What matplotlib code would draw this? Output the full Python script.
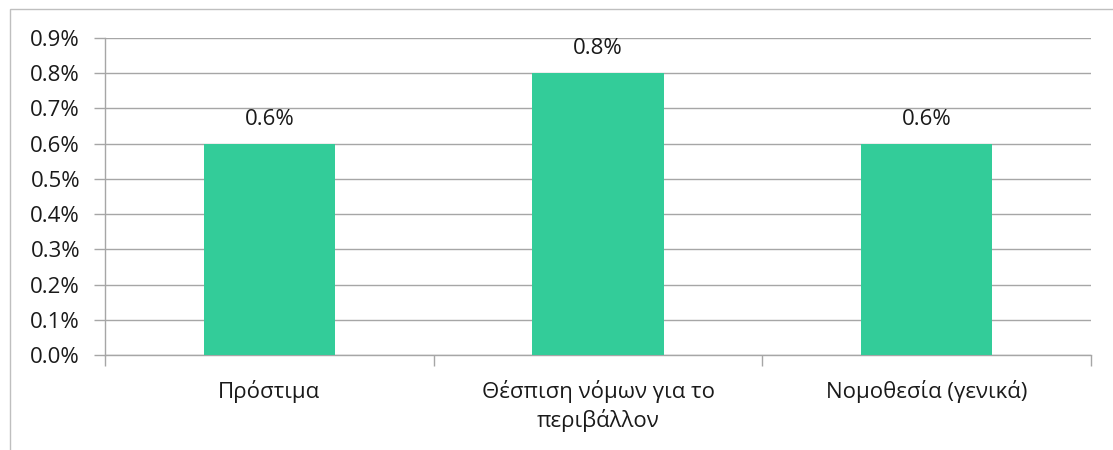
import numpy as np
import matplotlib.pyplot as plt
from matplotlib.patches import Rectangle
from matplotlib.ticker import FuncFormatter, FixedLocator

plt.rcParams['font.family'] = ['Open Sans', 'DejaVu Sans']

categories = ["Πρόστιμα", "Θέσπιση νόμων για το\nπεριβάλλον", "Νομοθεσία (γενικά)"]
values = [0.006, 0.008, 0.006]
y_ticks = [i / 1000 for i in range(10)]

BAR_COLOR = '#33CC99'
GRID_COLOR = '#A6A6A6'
TEXT_COLOR = '#1A1A1A'
FS = 16

W, H = 1113, 450
fig = plt.figure(figsize=(W / 100, H / 100), dpi=100)

# chart area border (runs off the right and bottom edges)
fig.patches.append(Rectangle((10 / W, -0.1), 1.2, 1 - 9 / H + 0.1,
                             transform=fig.transFigure, fill=False,
                             edgecolor='#BFBFBF', linewidth=1.0))

ax = fig.add_axes([105 / W, 1 - 355 / H, (1091 - 105) / W, (355 - 38) / H])

x = np.arange(len(categories))
ax.bar(x, values, width=0.4, color=BAR_COLOR, zorder=3)
for xi, v in zip(x, values):
    ax.annotate("{:.1f}%".format(v * 100), (xi, v), xytext=(0, 10),
                textcoords='offset points', ha='center', va='bottom',
                fontsize=FS, color=TEXT_COLOR)

ax.set_xlim(-0.5, len(categories) - 0.5)
ax.set_ylim(0, 0.009)
ax.set_yticks(y_ticks)
ax.yaxis.set_major_formatter(FuncFormatter(lambda v, p: "{:.1f}%".format(v * 100)))
ax.grid(axis='y', color=GRID_COLOR, linewidth=1.0, zorder=0)

ax.set_xticks(x)
ax.set_xticklabels(categories, fontsize=FS, color=TEXT_COLOR, linespacing=1.35)
ax.xaxis.set_minor_locator(FixedLocator(np.arange(len(categories) + 1) - 0.5))
ax.tick_params(axis='x', which='major', length=0, pad=18)
ax.tick_params(axis='x', which='minor', length=8, color=GRID_COLOR, width=1.0)
ax.tick_params(axis='y', length=8, color=GRID_COLOR, width=1.0, pad=10,
               labelsize=FS, labelcolor=TEXT_COLOR)

for s in ['top', 'right']:
    ax.spines[s].set_visible(False)
for s in ['left', 'bottom']:
    ax.spines[s].set_color(GRID_COLOR)
    ax.spines[s].set_linewidth(1.0)

fig.savefig('out.png', dpi=100)
